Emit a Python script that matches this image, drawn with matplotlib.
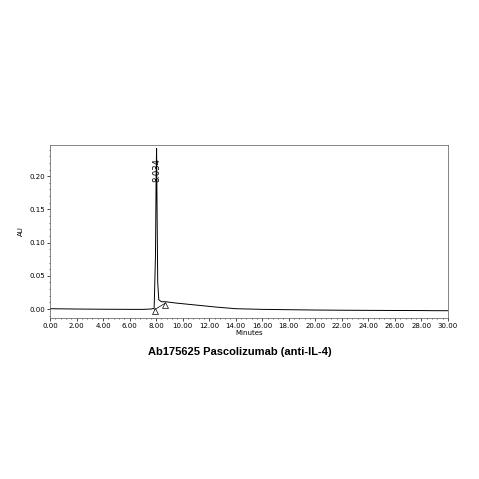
import matplotlib.pyplot as plt
from matplotlib.ticker import MultipleLocator

# chromatogram trace (minutes, AU)
t = [0.0, 2.0, 4.0, 6.0, 7.0, 7.6, 7.85, 7.95, 8.0, 8.034, 8.07, 8.12, 8.2, 8.4, 8.7,
     9.5, 11.0, 12.5, 14.0, 16.0, 18.0, 20.0, 22.0, 24.0, 26.0, 28.0, 29.0, 29.5, 30.0]
au = [0.0005, 0.0, -0.0003, -0.0005, -0.0005, 0.0, 0.001, 0.08, 0.2, 0.242, 0.15, 0.04, 0.014,
      0.011, 0.011, 0.009, 0.006, 0.003, 0.0005, -0.0005, -0.001, -0.0015, -0.0018, -0.002,
      -0.0022, -0.0023, -0.0025, -0.0025, -0.0025]
# integration baseline and markers
base_t = [7.88, 8.7]
base_au = [-0.001, 0.009]
peak_label = "8.034"
peak_t = 8.034
xticks = [i * 2.0 for i in range(16)]
yticks = [0.0, 0.05, 0.10, 0.15, 0.20]

fig = plt.figure(figsize=(4.79, 4.79), dpi=100)
ax = fig.add_axes([50 / 479, 1 - 318 / 479, 398 / 479, 173 / 479])
ax.plot(t, au, color="black", lw=0.7)
ax.plot(base_t, base_au, color="black", lw=0.5)
ax.plot(base_t, [-0.0035, 0.0065], ls="none", marker="^", mfc="white", mec="black", ms=5, mew=0.5)
ax.text(peak_t, 0.21, peak_label, rotation=90, ha="center", va="center", fontsize=6)
ax.set_xlim(0, 30)
ax.set_ylim(-0.0135, 0.247)
ax.set_xticks(xticks)
ax.set_xticklabels([f"{x:.2f}" for x in xticks])
ax.set_yticks(yticks)
ax.set_yticklabels([f"{y:.2f}" for y in yticks])
ax.xaxis.set_minor_locator(MultipleLocator(0.4))
ax.yaxis.set_minor_locator(MultipleLocator(0.01))
ax.tick_params(labelsize=5, length=2, width=0.5, pad=1.5)
ax.tick_params(which="minor", length=1, width=0.4)
for s in ax.spines.values():
    s.set_linewidth(0.5)
    s.set_color("#555555")
ax.set_xlabel("Minutes", fontsize=5, labelpad=1)
ax.set_ylabel("AU", fontsize=5, labelpad=4)
fig.text(0.5, 1 - 352 / 479, "Ab175625 Pascolizumab (anti-IL-4)", ha="center", va="center",
         fontsize=8, fontweight="bold", family="Liberation Sans")
fig.savefig("out.png", dpi=100)
